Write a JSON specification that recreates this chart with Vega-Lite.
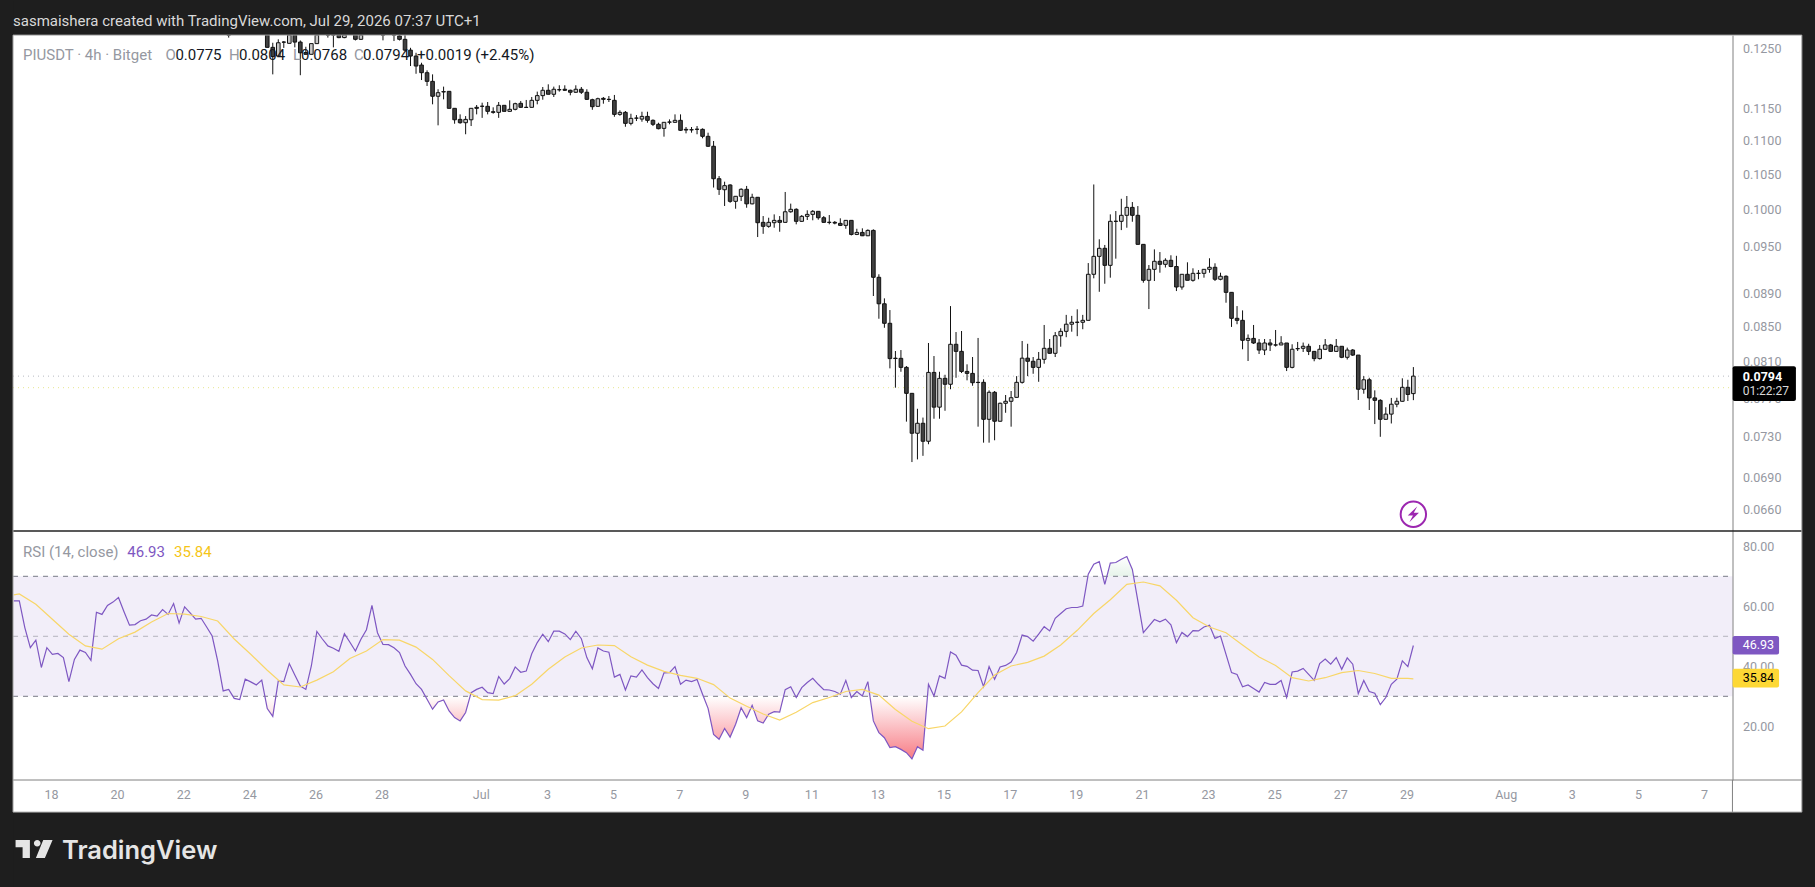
{
  "$schema": "https://vega.github.io/schema/vega-lite/v6.json",
  "width": 1815,
  "height": 887,
  "autosize": {"type": "fit", "contains": "padding"},
  "padding": 0,
  "background": "#1e1e1e",
  "config": {
    "view": {"stroke": null, "fill": "#ffffff"},
    "text": {"font": "Roboto"},
    "scale": {"continuousPadding": 0},
    "axis": {"labelFont": "Roboto", "labelFontSize": 12.5, "labelColor": "#9598a1", "grid": false, "ticks": false, "domain": false, "title": null}
  },
  "data": {"values": [{}]},
  "datasets": {
    "candles": [
      {"t":"2026-06-23T09:00","o":0.132,"h":0.133,"l":0.1269,"c":0.1315},
      {"t":"2026-06-24T13:00","o":0.1285,"h":0.13,"l":0.1252,"c":0.1252},
      {"t":"2026-06-24T17:00","o":0.1252,"h":0.126,"l":0.1206,"c":0.1236},
      {"t":"2026-06-24T21:00","o":0.1237,"h":0.1266,"l":0.1237,"c":0.126},
      {"t":"2026-06-25T01:00","o":0.12612,"h":0.1263,"l":0.1251,"c":0.1261},
      {"t":"2026-06-25T05:00","o":0.1259,"h":0.13,"l":0.1259,"c":0.1285},
      {"t":"2026-06-25T09:00","o":0.1285,"h":0.13,"l":0.1252,"c":0.12612},
      {"t":"2026-06-25T13:00","o":0.12612,"h":0.1264,"l":0.12046,"c":0.12426},
      {"t":"2026-06-25T17:00","o":0.1243,"h":0.1253,"l":0.12395,"c":0.124},
      {"t":"2026-06-25T21:00","o":0.124,"h":0.12585,"l":0.124,"c":0.12585},
      {"t":"2026-06-26T01:00","o":0.12585,"h":0.13,"l":0.12585,"c":0.129},
      {"t":"2026-06-26T09:00","o":0.13,"h":0.131,"l":0.1269,"c":0.1295},
      {"t":"2026-06-26T13:00","o":0.13,"h":0.131,"l":0.1252,"c":0.1295},
      {"t":"2026-06-26T17:00","o":0.129,"h":0.13,"l":0.1268,"c":0.1269},
      {"t":"2026-06-26T21:00","o":0.1269,"h":0.13,"l":0.1268,"c":0.129},
      {"t":"2026-06-27T05:00","o":0.1285,"h":0.13,"l":0.1264,"c":0.1266},
      {"t":"2026-06-27T09:00","o":0.1266,"h":0.13,"l":0.1265,"c":0.128},
      {"t":"2026-06-28T01:00","o":0.13,"h":0.131,"l":0.12642,"c":0.1295},
      {"t":"2026-06-28T09:00","o":0.129,"h":0.13,"l":0.1263,"c":0.128},
      {"t":"2026-06-28T13:00","o":0.1272,"h":0.128,"l":0.1264,"c":0.1266},
      {"t":"2026-06-28T17:00","o":0.1266,"h":0.128,"l":0.12455,"c":0.12472},
      {"t":"2026-06-28T21:00","o":0.12472,"h":0.12512,"l":0.122,"c":0.1237},
      {"t":"2026-06-29T01:00","o":0.1237,"h":0.12426,"l":0.1207,"c":0.122},
      {"t":"2026-06-29T05:00","o":0.12217,"h":0.12256,"l":0.11966,"c":0.12088},
      {"t":"2026-06-29T09:00","o":0.12088,"h":0.12128,"l":0.11868,"c":0.11944},
      {"t":"2026-06-29T13:00","o":0.11944,"h":0.1206,"l":0.1157,"c":0.117},
      {"t":"2026-06-29T17:00","o":0.117,"h":0.11814,"l":0.11238,"c":0.11758},
      {"t":"2026-06-29T21:00","o":0.11775,"h":0.11857,"l":0.1165,"c":0.1177},
      {"t":"2026-06-30T01:00","o":0.1178,"h":0.1178,"l":0.11506,"c":0.11506},
      {"t":"2026-06-30T05:00","o":0.11506,"h":0.11506,"l":0.11263,"c":0.11325},
      {"t":"2026-06-30T09:00","o":0.11331,"h":0.1141,"l":0.11263,"c":0.11279},
      {"t":"2026-06-30T13:00","o":0.11279,"h":0.11383,"l":0.111,"c":0.11331},
      {"t":"2026-06-30T17:00","o":0.11325,"h":0.11506,"l":0.11227,"c":0.11506},
      {"t":"2026-06-30T21:00","o":0.11522,"h":0.11559,"l":0.1141,"c":0.11506},
      {"t":"2026-07-01T01:00","o":0.1154,"h":0.11596,"l":0.11355,"c":0.11538},
      {"t":"2026-07-01T05:00","o":0.11538,"h":0.11607,"l":0.1141,"c":0.11458},
      {"t":"2026-07-01T09:00","o":0.11452,"h":0.11522,"l":0.1142,"c":0.11442},
      {"t":"2026-07-01T13:00","o":0.11442,"h":0.11607,"l":0.11355,"c":0.11554},
      {"t":"2026-07-01T17:00","o":0.11554,"h":0.11554,"l":0.11458,"c":0.11458},
      {"t":"2026-07-01T21:00","o":0.11458,"h":0.11634,"l":0.11452,"c":0.1149},
      {"t":"2026-07-02T01:00","o":0.1149,"h":0.11596,"l":0.11474,"c":0.1158},
      {"t":"2026-07-02T05:00","o":0.11586,"h":0.11623,"l":0.11517,"c":0.11522},
      {"t":"2026-07-02T09:00","o":0.11522,"h":0.1164,"l":0.11517,"c":0.1152},
      {"t":"2026-07-02T13:00","o":0.11522,"h":0.11688,"l":0.11517,"c":0.11634},
      {"t":"2026-07-02T17:00","o":0.11634,"h":0.11775,"l":0.1157,"c":0.1171},
      {"t":"2026-07-02T21:00","o":0.1171,"h":0.11851,"l":0.11644,"c":0.11797},
      {"t":"2026-07-03T01:00","o":0.11797,"h":0.11895,"l":0.11732,"c":0.11732},
      {"t":"2026-07-03T05:00","o":0.11732,"h":0.11857,"l":0.11688,"c":0.11814},
      {"t":"2026-07-03T09:00","o":0.11807,"h":0.11879,"l":0.11775,"c":0.11805},
      {"t":"2026-07-03T13:00","o":0.11814,"h":0.11879,"l":0.11786,"c":0.11797},
      {"t":"2026-07-03T17:00","o":0.11797,"h":0.11807,"l":0.11715,"c":0.11765},
      {"t":"2026-07-03T21:00","o":0.11765,"h":0.11879,"l":0.11753,"c":0.11814},
      {"t":"2026-07-04T01:00","o":0.11814,"h":0.11851,"l":0.11737,"c":0.11765},
      {"t":"2026-07-04T05:00","o":0.11765,"h":0.11814,"l":0.1164,"c":0.1165},
      {"t":"2026-07-04T09:00","o":0.11644,"h":0.1166,"l":0.11483,"c":0.11532},
      {"t":"2026-07-04T13:00","o":0.11538,"h":0.11677,"l":0.11532,"c":0.1166},
      {"t":"2026-07-04T17:00","o":0.11666,"h":0.11688,"l":0.1158,"c":0.1165},
      {"t":"2026-07-04T21:00","o":0.1165,"h":0.11704,"l":0.11607,"c":0.11648},
      {"t":"2026-07-05T01:00","o":0.11634,"h":0.11721,"l":0.11372,"c":0.1141},
      {"t":"2026-07-05T05:00","o":0.1141,"h":0.11474,"l":0.11388,"c":0.11442},
      {"t":"2026-07-05T09:00","o":0.11442,"h":0.11463,"l":0.11216,"c":0.11269},
      {"t":"2026-07-05T13:00","o":0.11269,"h":0.1142,"l":0.11238,"c":0.11347},
      {"t":"2026-07-05T17:00","o":0.11352,"h":0.11399,"l":0.11305,"c":0.1135},
      {"t":"2026-07-05T21:00","o":0.11336,"h":0.11452,"l":0.11294,"c":0.11378},
      {"t":"2026-07-06T01:00","o":0.11378,"h":0.11452,"l":0.11279,"c":0.11316},
      {"t":"2026-07-06T05:00","o":0.11316,"h":0.11331,"l":0.11227,"c":0.11254},
      {"t":"2026-07-06T09:00","o":0.11254,"h":0.11279,"l":0.11176,"c":0.11186},
      {"t":"2026-07-06T13:00","o":0.11191,"h":0.11285,"l":0.11063,"c":0.11285},
      {"t":"2026-07-06T17:00","o":0.1129,"h":0.11331,"l":0.11254,"c":0.11288},
      {"t":"2026-07-06T21:00","o":0.11285,"h":0.1141,"l":0.11279,"c":0.11316},
      {"t":"2026-07-07T01:00","o":0.11316,"h":0.1141,"l":0.1115,"c":0.11161},
      {"t":"2026-07-07T05:00","o":0.11176,"h":0.11212,"l":0.11114,"c":0.11165},
      {"t":"2026-07-07T09:00","o":0.1117,"h":0.11212,"l":0.11124,"c":0.11168},
      {"t":"2026-07-07T13:00","o":0.11178,"h":0.11227,"l":0.111,"c":0.11176},
      {"t":"2026-07-07T17:00","o":0.11176,"h":0.11191,"l":0.11038,"c":0.11068},
      {"t":"2026-07-07T21:00","o":0.11068,"h":0.11124,"l":0.10907,"c":0.10917},
      {"t":"2026-07-08T01:00","o":0.10917,"h":0.10997,"l":0.1031,"c":0.10437},
      {"t":"2026-07-08T05:00","o":0.10437,"h":0.10476,"l":0.10205,"c":0.10285},
      {"t":"2026-07-08T09:00","o":0.10279,"h":0.10394,"l":0.1005,"c":0.10337},
      {"t":"2026-07-08T13:00","o":0.10347,"h":0.10357,"l":0.10095,"c":0.10115},
      {"t":"2026-07-08T17:00","o":0.10115,"h":0.1019,"l":0.10012,"c":0.10186},
      {"t":"2026-07-08T21:00","o":0.10186,"h":0.103,"l":0.10119,"c":0.10285},
      {"t":"2026-07-09T01:00","o":0.10285,"h":0.10333,"l":0.10026,"c":0.1008},
      {"t":"2026-07-09T05:00","o":0.1008,"h":0.10222,"l":0.10073,"c":0.10172},
      {"t":"2026-07-09T09:00","o":0.10172,"h":0.10176,"l":0.09627,"c":0.0982},
      {"t":"2026-07-09T13:00","o":0.09825,"h":0.09911,"l":0.0967,"c":0.09771},
      {"t":"2026-07-09T17:00","o":0.09771,"h":0.09888,"l":0.09752,"c":0.09825},
      {"t":"2026-07-09T21:00","o":0.0982,"h":0.09934,"l":0.09752,"c":0.09852},
      {"t":"2026-07-10T01:00","o":0.09852,"h":0.09911,"l":0.09698,"c":0.09825},
      {"t":"2026-07-10T05:00","o":0.09825,"h":0.10247,"l":0.0982,"c":0.0997},
      {"t":"2026-07-10T09:00","o":0.0997,"h":0.10083,"l":0.09957,"c":0.10004},
      {"t":"2026-07-10T13:00","o":0.10004,"h":0.10018,"l":0.09798,"c":0.09839},
      {"t":"2026-07-10T17:00","o":0.09839,"h":0.09925,"l":0.0983,"c":0.09907},
      {"t":"2026-07-10T21:00","o":0.09907,"h":0.0999,"l":0.09857,"c":0.09934},
      {"t":"2026-07-11T01:00","o":0.09934,"h":0.09994,"l":0.09853,"c":0.09976},
      {"t":"2026-07-11T05:00","o":0.09976,"h":0.09976,"l":0.09861,"c":0.09888},
      {"t":"2026-07-11T09:00","o":0.09888,"h":0.09911,"l":0.0982,"c":0.09825},
      {"t":"2026-07-11T13:00","o":0.09826,"h":0.09925,"l":0.09798,"c":0.09824},
      {"t":"2026-07-11T17:00","o":0.09825,"h":0.09843,"l":0.09798,"c":0.09815},
      {"t":"2026-07-11T21:00","o":0.09811,"h":0.0988,"l":0.09775,"c":0.09784},
      {"t":"2026-07-12T01:00","o":0.09784,"h":0.09857,"l":0.09738,"c":0.09852},
      {"t":"2026-07-12T05:00","o":0.09852,"h":0.09852,"l":0.09648,"c":0.09662},
      {"t":"2026-07-12T09:00","o":0.09662,"h":0.09738,"l":0.09653,"c":0.09689},
      {"t":"2026-07-12T13:00","o":0.09689,"h":0.09744,"l":0.0964,"c":0.09644},
      {"t":"2026-07-12T17:00","o":0.09644,"h":0.0973,"l":0.0964,"c":0.09716},
      {"t":"2026-07-12T21:00","o":0.09716,"h":0.0973,"l":0.08872,"c":0.09105},
      {"t":"2026-07-13T01:00","o":0.09105,"h":0.09143,"l":0.08597,"c":0.08777},
      {"t":"2026-07-13T05:00","o":0.08777,"h":0.08843,"l":0.0849,"c":0.08543},
      {"t":"2026-07-13T09:00","o":0.08543,"h":0.08701,"l":0.08026,"c":0.08135},
      {"t":"2026-07-13T13:00","o":0.0814,"h":0.08221,"l":0.07814,"c":0.08136},
      {"t":"2026-07-13T17:00","o":0.08138,"h":0.08232,"l":0.07988,"c":0.08037},
      {"t":"2026-07-13T21:00","o":0.08037,"h":0.08052,"l":0.07455,"c":0.07753},
      {"t":"2026-07-14T01:00","o":0.07753,"h":0.07753,"l":0.07049,"c":0.07336},
      {"t":"2026-07-14T05:00","o":0.07336,"h":0.07589,"l":0.07075,"c":0.07438},
      {"t":"2026-07-14T09:00","o":0.07438,"h":0.07497,"l":0.0711,"c":0.07255},
      {"t":"2026-07-14T13:00","o":0.07255,"h":0.08313,"l":0.07225,"c":0.07981},
      {"t":"2026-07-14T17:00","o":0.07981,"h":0.08164,"l":0.07485,"c":0.07606},
      {"t":"2026-07-14T21:00","o":0.07606,"h":0.07988,"l":0.07485,"c":0.07916},
      {"t":"2026-07-15T01:00","o":0.07916,"h":0.07955,"l":0.07568,"c":0.07851},
      {"t":"2026-07-15T05:00","o":0.07851,"h":0.08749,"l":0.07797,"c":0.08298},
      {"t":"2026-07-15T09:00","o":0.08298,"h":0.0844,"l":0.07922,"c":0.08217},
      {"t":"2026-07-15T13:00","o":0.08217,"h":0.08452,"l":0.07974,"c":0.07992},
      {"t":"2026-07-15T17:00","o":0.07992,"h":0.08071,"l":0.07894,"c":0.0797},
      {"t":"2026-07-15T21:00","o":0.0797,"h":0.08153,"l":0.07835,"c":0.07868},
      {"t":"2026-07-16T01:00","o":0.07872,"h":0.08371,"l":0.07403,"c":0.0787},
      {"t":"2026-07-16T05:00","o":0.07872,"h":0.07905,"l":0.07241,"c":0.07479},
      {"t":"2026-07-16T09:00","o":0.07479,"h":0.07785,"l":0.07241,"c":0.07764},
      {"t":"2026-07-16T13:00","o":0.07764,"h":0.07778,"l":0.07265,"c":0.07459},
      {"t":"2026-07-16T17:00","o":0.07459,"h":0.07654,"l":0.07455,"c":0.07647},
      {"t":"2026-07-16T21:00","o":0.07647,"h":0.07735,"l":0.07547,"c":0.07668},
      {"t":"2026-07-17T01:00","o":0.07668,"h":0.07778,"l":0.07403,"c":0.07706},
      {"t":"2026-07-17T05:00","o":0.0771,"h":0.0794,"l":0.07706,"c":0.07872},
      {"t":"2026-07-17T09:00","o":0.07872,"h":0.08336,"l":0.07858,"c":0.0814},
      {"t":"2026-07-17T13:00","o":0.0814,"h":0.08304,"l":0.0794,"c":0.08105},
      {"t":"2026-07-17T17:00","o":0.08105,"h":0.08153,"l":0.07966,"c":0.08037},
      {"t":"2026-07-17T21:00","o":0.08037,"h":0.0821,"l":0.07878,"c":0.08127},
      {"t":"2026-07-18T01:00","o":0.08127,"h":0.08523,"l":0.08078,"c":0.08252},
      {"t":"2026-07-18T05:00","o":0.08252,"h":0.08359,"l":0.0819,"c":0.08195},
      {"t":"2026-07-18T09:00","o":0.08195,"h":0.0844,"l":0.08153,"c":0.08397},
      {"t":"2026-07-18T13:00","o":0.08397,"h":0.08484,"l":0.0827,"c":0.08448},
      {"t":"2026-07-18T17:00","o":0.08448,"h":0.08643,"l":0.0838,"c":0.08532},
      {"t":"2026-07-18T21:00","o":0.08532,"h":0.08631,"l":0.08444,"c":0.08555},
      {"t":"2026-07-19T01:00","o":0.08556,"h":0.0871,"l":0.08392,"c":0.08554},
      {"t":"2026-07-19T05:00","o":0.08555,"h":0.08643,"l":0.08473,"c":0.08578},
      {"t":"2026-07-19T09:00","o":0.08578,"h":0.09286,"l":0.08578,"c":0.09143},
      {"t":"2026-07-19T13:00","o":0.09143,"h":0.10354,"l":0.09092,"c":0.09373},
      {"t":"2026-07-19T17:00","o":0.09373,"h":0.09597,"l":0.08924,"c":0.09478},
      {"t":"2026-07-19T21:00","o":0.09478,"h":0.09522,"l":0.09024,"c":0.09257},
      {"t":"2026-07-20T01:00","o":0.09257,"h":0.09934,"l":0.091,"c":0.09839},
      {"t":"2026-07-20T05:00","o":0.0984,"h":0.0998,"l":0.09343,"c":0.09838},
      {"t":"2026-07-20T09:00","o":0.09839,"h":0.10151,"l":0.0972,"c":0.09921},
      {"t":"2026-07-20T13:00","o":0.09921,"h":0.1019,"l":0.09752,"c":0.10031},
      {"t":"2026-07-20T17:00","o":0.10031,"h":0.10105,"l":0.09833,"c":0.09921},
      {"t":"2026-07-20T21:00","o":0.09921,"h":0.10049,"l":0.0953,"c":0.0953},
      {"t":"2026-07-21T01:00","o":0.0953,"h":0.0953,"l":0.09037,"c":0.09067},
      {"t":"2026-07-21T05:00","o":0.09067,"h":0.09261,"l":0.08713,"c":0.09206},
      {"t":"2026-07-21T09:00","o":0.09206,"h":0.09464,"l":0.09058,"c":0.09309},
      {"t":"2026-07-21T13:00","o":0.09309,"h":0.09429,"l":0.09163,"c":0.0927},
      {"t":"2026-07-21T17:00","o":0.0927,"h":0.09348,"l":0.09229,"c":0.09322},
      {"t":"2026-07-21T21:00","o":0.09322,"h":0.09387,"l":0.09233,"c":0.09242},
      {"t":"2026-07-22T01:00","o":0.09242,"h":0.0938,"l":0.08933,"c":0.08983},
      {"t":"2026-07-22T05:00","o":0.08983,"h":0.09143,"l":0.0895,"c":0.09143},
      {"t":"2026-07-22T09:00","o":0.09143,"h":0.09296,"l":0.09067,"c":0.09067},
      {"t":"2026-07-22T13:00","o":0.09067,"h":0.09219,"l":0.0905,"c":0.09155},
      {"t":"2026-07-22T17:00","o":0.09156,"h":0.09197,"l":0.0908,"c":0.09154},
      {"t":"2026-07-22T21:00","o":0.09155,"h":0.09206,"l":0.091,"c":0.09206},
      {"t":"2026-07-23T01:00","o":0.09206,"h":0.09348,"l":0.09163,"c":0.09232},
      {"t":"2026-07-23T05:00","o":0.09232,"h":0.09283,"l":0.09058,"c":0.0908},
      {"t":"2026-07-23T09:00","o":0.0908,"h":0.09163,"l":0.09067,"c":0.09118},
      {"t":"2026-07-23T13:00","o":0.09118,"h":0.0913,"l":0.0879,"c":0.08917},
      {"t":"2026-07-23T17:00","o":0.08917,"h":0.08917,"l":0.085,"c":0.08602},
      {"t":"2026-07-23T21:00","o":0.08602,"h":0.08749,"l":0.08532,"c":0.08578},
      {"t":"2026-07-24T01:00","o":0.08578,"h":0.08697,"l":0.08241,"c":0.08344},
      {"t":"2026-07-24T05:00","o":0.08344,"h":0.08412,"l":0.08108,"c":0.08366},
      {"t":"2026-07-24T09:00","o":0.08366,"h":0.08523,"l":0.08302,"c":0.08313},
      {"t":"2026-07-24T13:00","o":0.08313,"h":0.08359,"l":0.08187,"c":0.08232},
      {"t":"2026-07-24T17:00","o":0.08232,"h":0.08359,"l":0.08175,"c":0.08313},
      {"t":"2026-07-24T21:00","o":0.08313,"h":0.08359,"l":0.08221,"c":0.0829},
      {"t":"2026-07-25T01:00","o":0.08291,"h":0.08464,"l":0.08272,"c":0.08289},
      {"t":"2026-07-25T05:00","o":0.0829,"h":0.08392,"l":0.0829,"c":0.08313},
      {"t":"2026-07-25T09:00","o":0.08313,"h":0.08313,"l":0.07996,"c":0.08037},
      {"t":"2026-07-25T13:00","o":0.08037,"h":0.08298,"l":0.08026,"c":0.08241},
      {"t":"2026-07-25T17:00","o":0.08249,"h":0.08325,"l":0.08221,"c":0.08247},
      {"t":"2026-07-25T21:00","o":0.08252,"h":0.08318,"l":0.0821,"c":0.08275},
      {"t":"2026-07-26T01:00","o":0.08275,"h":0.08304,"l":0.08175,"c":0.08217},
      {"t":"2026-07-26T05:00","o":0.08217,"h":0.08221,"l":0.08105,"c":0.08135},
      {"t":"2026-07-26T09:00","o":0.08135,"h":0.0829,"l":0.08125,"c":0.08241},
      {"t":"2026-07-26T13:00","o":0.08241,"h":0.08359,"l":0.08232,"c":0.0829},
      {"t":"2026-07-26T17:00","o":0.0829,"h":0.08302,"l":0.0821,"c":0.08217},
      {"t":"2026-07-26T21:00","o":0.08217,"h":0.08359,"l":0.0821,"c":0.08275},
      {"t":"2026-07-27T01:00","o":0.08275,"h":0.08275,"l":0.0814,"c":0.0815},
      {"t":"2026-07-27T05:00","o":0.0815,"h":0.0826,"l":0.08125,"c":0.08232},
      {"t":"2026-07-27T09:00","o":0.08232,"h":0.08244,"l":0.08165,"c":0.08175},
      {"t":"2026-07-27T13:00","o":0.08175,"h":0.08175,"l":0.07682,"c":0.07797},
      {"t":"2026-07-27T17:00","o":0.07797,"h":0.0794,"l":0.07749,"c":0.079},
      {"t":"2026-07-27T21:00","o":0.079,"h":0.07922,"l":0.07576,"c":0.07704},
      {"t":"2026-07-28T01:00","o":0.07704,"h":0.07785,"l":0.0743,"c":0.07678},
      {"t":"2026-07-28T05:00","o":0.07678,"h":0.0769,"l":0.073,"c":0.07479},
      {"t":"2026-07-28T09:00","o":0.07479,"h":0.07605,"l":0.07475,"c":0.07533},
      {"t":"2026-07-28T13:00","o":0.07533,"h":0.07704,"l":0.07436,"c":0.07637},
      {"t":"2026-07-28T17:00","o":0.07637,"h":0.07706,"l":0.07605,"c":0.07668},
      {"t":"2026-07-28T21:00","o":0.07668,"h":0.07916,"l":0.07664,"c":0.07818},
      {"t":"2026-07-29T01:00","o":0.07818,"h":0.079,"l":0.07671,"c":0.07741},
      {"t":"2026-07-29T05:00","o":0.0775,"h":0.0804,"l":0.0768,"c":0.0794}
    ],
    "rsi": [
      {"t":"2026-06-16T21:00","v":61.8},
      {"t":"2026-06-17T01:00","v":61.8},{"t":"2026-06-17T05:00","v":52.9},{"t":"2026-06-17T09:00","v":46.2},{"t":"2026-06-17T13:00","v":48.7},{"t":"2026-06-17T17:00","v":39.6},{"t":"2026-06-17T21:00","v":46.2},
      {"t":"2026-06-18T01:00","v":44},{"t":"2026-06-18T05:00","v":44.3},{"t":"2026-06-18T09:00","v":42.9},{"t":"2026-06-18T13:00","v":34.9},{"t":"2026-06-18T17:00","v":42.3},{"t":"2026-06-18T21:00","v":45.4},
      {"t":"2026-06-19T01:00","v":44.6},{"t":"2026-06-19T05:00","v":42},{"t":"2026-06-19T09:00","v":58},{"t":"2026-06-19T13:00","v":57.3},{"t":"2026-06-19T17:00","v":60.3},{"t":"2026-06-19T21:00","v":61.4},
      {"t":"2026-06-20T01:00","v":62.9},{"t":"2026-06-20T05:00","v":58.2},{"t":"2026-06-20T09:00","v":53.7},{"t":"2026-06-20T13:00","v":53.9},{"t":"2026-06-20T17:00","v":55.2},{"t":"2026-06-20T21:00","v":55.7},
      {"t":"2026-06-21T01:00","v":57.1},{"t":"2026-06-21T05:00","v":56.7},{"t":"2026-06-21T09:00","v":58.9},{"t":"2026-06-21T13:00","v":57.3},{"t":"2026-06-21T17:00","v":60.9},{"t":"2026-06-21T21:00","v":54.4},
      {"t":"2026-06-22T01:00","v":59.8},{"t":"2026-06-22T05:00","v":57.8},{"t":"2026-06-22T09:00","v":55.7},{"t":"2026-06-22T13:00","v":56},{"t":"2026-06-22T17:00","v":53.1},{"t":"2026-06-22T21:00","v":50.1},
      {"t":"2026-06-23T01:00","v":41.8},{"t":"2026-06-23T05:00","v":31.8},{"t":"2026-06-23T09:00","v":32.3},{"t":"2026-06-23T13:00","v":29.3},{"t":"2026-06-23T17:00","v":28.9},{"t":"2026-06-23T21:00","v":35.7},
      {"t":"2026-06-24T01:00","v":34.8},{"t":"2026-06-24T05:00","v":33.8},{"t":"2026-06-24T09:00","v":35.4},{"t":"2026-06-24T13:00","v":25.9},{"t":"2026-06-24T17:00","v":23.3},{"t":"2026-06-24T21:00","v":35.1},
      {"t":"2026-06-25T01:00","v":34.9},{"t":"2026-06-25T05:00","v":40.9},{"t":"2026-06-25T09:00","v":37.1},{"t":"2026-06-25T13:00","v":33.4},{"t":"2026-06-25T17:00","v":32.3},{"t":"2026-06-25T21:00","v":40.1},
      {"t":"2026-06-26T01:00","v":51.6},{"t":"2026-06-26T05:00","v":49.1},{"t":"2026-06-26T09:00","v":46.8},{"t":"2026-06-26T13:00","v":46},{"t":"2026-06-26T17:00","v":45},{"t":"2026-06-26T21:00","v":50.9},
      {"t":"2026-06-27T01:00","v":48},{"t":"2026-06-27T05:00","v":45.1},{"t":"2026-06-27T09:00","v":49},{"t":"2026-06-27T13:00","v":52.2},{"t":"2026-06-27T17:00","v":60.3},{"t":"2026-06-27T21:00","v":51.2},
      {"t":"2026-06-28T01:00","v":47.3},{"t":"2026-06-28T05:00","v":47.2},{"t":"2026-06-28T09:00","v":46.2},{"t":"2026-06-28T13:00","v":44.6},{"t":"2026-06-28T17:00","v":40.1},{"t":"2026-06-28T21:00","v":37.3},
      {"t":"2026-06-29T01:00","v":34.2},{"t":"2026-06-29T05:00","v":32.3},{"t":"2026-06-29T09:00","v":29},{"t":"2026-06-29T13:00","v":25.7},{"t":"2026-06-29T17:00","v":28.1},{"t":"2026-06-29T21:00","v":28.8},
      {"t":"2026-06-30T01:00","v":25.1},{"t":"2026-06-30T05:00","v":22.9},{"t":"2026-06-30T09:00","v":21.8},{"t":"2026-06-30T13:00","v":24.6},{"t":"2026-06-30T17:00","v":31.2},{"t":"2026-06-30T21:00","v":32.3},
      {"t":"2026-07-01T01:00","v":33},{"t":"2026-07-01T05:00","v":31.2},{"t":"2026-07-01T09:00","v":30.9},{"t":"2026-07-01T13:00","v":36.6},{"t":"2026-07-01T17:00","v":34.1},{"t":"2026-07-01T21:00","v":35.9},
      {"t":"2026-07-02T01:00","v":39.8},{"t":"2026-07-02T05:00","v":38},{"t":"2026-07-02T09:00","v":38.4},{"t":"2026-07-02T13:00","v":44.2},{"t":"2026-07-02T17:00","v":47.9},{"t":"2026-07-02T21:00","v":50.7},
      {"t":"2026-07-03T01:00","v":48.2},{"t":"2026-07-03T05:00","v":51.7},{"t":"2026-07-03T09:00","v":51.7},{"t":"2026-07-03T13:00","v":50.8},{"t":"2026-07-03T17:00","v":48.9},{"t":"2026-07-03T21:00","v":51.7},
      {"t":"2026-07-04T01:00","v":49.2},{"t":"2026-07-04T05:00","v":42.9},{"t":"2026-07-04T09:00","v":39.2},{"t":"2026-07-04T13:00","v":46.1},{"t":"2026-07-04T17:00","v":45.1},{"t":"2026-07-04T21:00","v":44.7},
      {"t":"2026-07-05T01:00","v":36.4},{"t":"2026-07-05T05:00","v":37.3},{"t":"2026-07-05T09:00","v":32.1},{"t":"2026-07-05T13:00","v":36.8},{"t":"2026-07-05T17:00","v":36.4},{"t":"2026-07-05T21:00","v":38.8},
      {"t":"2026-07-06T01:00","v":36.2},{"t":"2026-07-06T05:00","v":34.2},{"t":"2026-07-06T09:00","v":32.6},{"t":"2026-07-06T13:00","v":37.8},{"t":"2026-07-06T17:00","v":37.9},{"t":"2026-07-06T21:00","v":39.9},
      {"t":"2026-07-07T01:00","v":34},{"t":"2026-07-07T05:00","v":35.4},{"t":"2026-07-07T09:00","v":34.9},{"t":"2026-07-07T13:00","v":35.6},{"t":"2026-07-07T17:00","v":30.7},{"t":"2026-07-07T21:00","v":26},
      {"t":"2026-07-08T01:00","v":17.3},{"t":"2026-07-08T05:00","v":15.7},{"t":"2026-07-08T09:00","v":19.3},{"t":"2026-07-08T13:00","v":16.4},{"t":"2026-07-08T17:00","v":20.7},{"t":"2026-07-08T21:00","v":26.2},
      {"t":"2026-07-09T01:00","v":22.9},{"t":"2026-07-09T05:00","v":27},{"t":"2026-07-09T09:00","v":21.8},{"t":"2026-07-09T13:00","v":21.1},{"t":"2026-07-09T17:00","v":24},{"t":"2026-07-09T21:00","v":24.9},
      {"t":"2026-07-10T01:00","v":24.7},{"t":"2026-07-10T05:00","v":32.2},{"t":"2026-07-10T09:00","v":33.2},{"t":"2026-07-10T13:00","v":29.6},{"t":"2026-07-10T17:00","v":32.9},{"t":"2026-07-10T21:00","v":34.6},
      {"t":"2026-07-11T01:00","v":36},{"t":"2026-07-11T05:00","v":34},{"t":"2026-07-11T09:00","v":32.2},{"t":"2026-07-11T13:00","v":32.1},{"t":"2026-07-11T17:00","v":31.6},{"t":"2026-07-11T21:00","v":30.7},
      {"t":"2026-07-12T01:00","v":35.3},{"t":"2026-07-12T05:00","v":29.6},{"t":"2026-07-12T09:00","v":31.6},{"t":"2026-07-12T13:00","v":30.1},{"t":"2026-07-12T17:00","v":34.9},{"t":"2026-07-12T21:00","v":21.8},
      {"t":"2026-07-13T01:00","v":17.9},{"t":"2026-07-13T05:00","v":16.2},{"t":"2026-07-13T09:00","v":12.9},{"t":"2026-07-13T13:00","v":13.2},{"t":"2026-07-13T17:00","v":12.3},{"t":"2026-07-13T21:00","v":11.2},
      {"t":"2026-07-14T01:00","v":9.1},{"t":"2026-07-14T05:00","v":13.2},{"t":"2026-07-14T09:00","v":12},{"t":"2026-07-14T13:00","v":34},{"t":"2026-07-14T17:00","v":30.1},{"t":"2026-07-14T21:00","v":36.8},
      {"t":"2026-07-15T01:00","v":36},{"t":"2026-07-15T05:00","v":44.8},{"t":"2026-07-15T09:00","v":43.7},{"t":"2026-07-15T13:00","v":40.4},{"t":"2026-07-15T17:00","v":40},{"t":"2026-07-15T21:00","v":38.7},
      {"t":"2026-07-16T01:00","v":38.6},{"t":"2026-07-16T05:00","v":33.2},{"t":"2026-07-16T09:00","v":39.9},{"t":"2026-07-16T13:00","v":35.7},{"t":"2026-07-16T17:00","v":39.8},{"t":"2026-07-16T21:00","v":40.3},
      {"t":"2026-07-17T01:00","v":41.4},{"t":"2026-07-17T05:00","v":44.6},{"t":"2026-07-17T09:00","v":50.4},{"t":"2026-07-17T13:00","v":49.9},{"t":"2026-07-17T17:00","v":48.4},{"t":"2026-07-17T21:00","v":50.7},
      {"t":"2026-07-18T01:00","v":53.2},{"t":"2026-07-18T05:00","v":51.8},{"t":"2026-07-18T09:00","v":56},{"t":"2026-07-18T13:00","v":57.6},{"t":"2026-07-18T17:00","v":59.2},{"t":"2026-07-18T21:00","v":59.6},
      {"t":"2026-07-19T01:00","v":59.6},{"t":"2026-07-19T05:00","v":60.1},{"t":"2026-07-19T09:00","v":70.7},{"t":"2026-07-19T13:00","v":74},{"t":"2026-07-19T17:00","v":74.9},{"t":"2026-07-19T21:00","v":67.3},
      {"t":"2026-07-20T01:00","v":74.4},{"t":"2026-07-20T05:00","v":74.6},{"t":"2026-07-20T09:00","v":75.7},{"t":"2026-07-20T13:00","v":76.6},{"t":"2026-07-20T17:00","v":72.3},{"t":"2026-07-20T21:00","v":61.8},
      {"t":"2026-07-21T01:00","v":51.2},{"t":"2026-07-21T05:00","v":53.4},{"t":"2026-07-21T09:00","v":55.6},{"t":"2026-07-21T13:00","v":54.8},{"t":"2026-07-21T17:00","v":55.7},{"t":"2026-07-21T21:00","v":53.8},
      {"t":"2026-07-22T01:00","v":47.9},{"t":"2026-07-22T05:00","v":51.3},{"t":"2026-07-22T09:00","v":49.9},{"t":"2026-07-22T13:00","v":51.9},{"t":"2026-07-22T17:00","v":51.8},{"t":"2026-07-22T21:00","v":53.1},
      {"t":"2026-07-23T01:00","v":53.7},{"t":"2026-07-23T05:00","v":49.3},{"t":"2026-07-23T09:00","v":50.1},{"t":"2026-07-23T13:00","v":44},{"t":"2026-07-23T17:00","v":37.9},{"t":"2026-07-23T21:00","v":37.3},
      {"t":"2026-07-24T01:00","v":33.2},{"t":"2026-07-24T05:00","v":33.8},{"t":"2026-07-24T09:00","v":32.6},{"t":"2026-07-24T13:00","v":31.4},{"t":"2026-07-24T17:00","v":34.6},{"t":"2026-07-24T21:00","v":34},
      {"t":"2026-07-25T01:00","v":34},{"t":"2026-07-25T05:00","v":35.3},{"t":"2026-07-25T09:00","v":29.6},{"t":"2026-07-25T13:00","v":38.1},{"t":"2026-07-25T17:00","v":38.4},{"t":"2026-07-25T21:00","v":39.3},
      {"t":"2026-07-26T01:00","v":37.3},{"t":"2026-07-26T05:00","v":35.3},{"t":"2026-07-26T09:00","v":40.9},{"t":"2026-07-26T13:00","v":42.4},{"t":"2026-07-26T17:00","v":40.7},{"t":"2026-07-26T21:00","v":42.9},
      {"t":"2026-07-27T01:00","v":39},{"t":"2026-07-27T05:00","v":42.8},{"t":"2026-07-27T09:00","v":40.7},{"t":"2026-07-27T13:00","v":30.9},{"t":"2026-07-27T17:00","v":35.3},{"t":"2026-07-27T21:00","v":31.6},
      {"t":"2026-07-28T01:00","v":31},{"t":"2026-07-28T05:00","v":27.2},{"t":"2026-07-28T09:00","v":29.6},{"t":"2026-07-28T13:00","v":34},{"t":"2026-07-28T17:00","v":35.7},{"t":"2026-07-28T21:00","v":41.8},
      {"t":"2026-07-29T01:00","v":39.9},{"t":"2026-07-29T05:00","v":46.93}
    ],
    "ma": [
      {"t":"2026-06-16T21:00","v":63.8},{"t":"2026-06-17T01:00","v":64.1},{"t":"2026-06-17T13:00","v":60.7},{"t":"2026-06-18T01:00","v":55.7},{"t":"2026-06-18T13:00","v":50.7},
      {"t":"2026-06-19T01:00","v":46.8},{"t":"2026-06-19T13:00","v":45.7},{"t":"2026-06-20T01:00","v":49.2},{"t":"2026-06-20T13:00","v":51.4},{"t":"2026-06-21T01:00","v":54.8},
      {"t":"2026-06-21T13:00","v":57.6},{"t":"2026-06-22T01:00","v":57.4},{"t":"2026-06-22T13:00","v":56.6},{"t":"2026-06-23T01:00","v":55.1},{"t":"2026-06-23T13:00","v":49.1},
      {"t":"2026-06-24T01:00","v":44},{"t":"2026-06-24T13:00","v":38.7},{"t":"2026-06-25T01:00","v":33.8},{"t":"2026-06-25T13:00","v":33.1},{"t":"2026-06-26T01:00","v":35.4},
      {"t":"2026-06-26T13:00","v":38.2},{"t":"2026-06-27T01:00","v":42.6},{"t":"2026-06-27T13:00","v":45.1},{"t":"2026-06-28T01:00","v":48.9},{"t":"2026-06-28T13:00","v":48.7},
      {"t":"2026-06-29T01:00","v":46.4},{"t":"2026-06-29T13:00","v":42.3},{"t":"2026-06-30T01:00","v":36.9},{"t":"2026-06-30T13:00","v":31.8},{"t":"2026-07-01T01:00","v":28.9},
      {"t":"2026-07-01T13:00","v":28.7},{"t":"2026-07-02T01:00","v":30.2},{"t":"2026-07-02T13:00","v":34},{"t":"2026-07-03T01:00","v":39},{"t":"2026-07-03T13:00","v":43.1},
      {"t":"2026-07-04T01:00","v":46.1},{"t":"2026-07-04T13:00","v":47.1},{"t":"2026-07-05T01:00","v":46.9},{"t":"2026-07-05T13:00","v":43.2},{"t":"2026-07-06T01:00","v":40.4},
      {"t":"2026-07-06T13:00","v":38.3},{"t":"2026-07-07T01:00","v":37},{"t":"2026-07-07T13:00","v":36},{"t":"2026-07-08T01:00","v":33.9},{"t":"2026-07-08T13:00","v":29.4},
      {"t":"2026-07-09T01:00","v":26.7},{"t":"2026-07-09T13:00","v":24.1},{"t":"2026-07-10T01:00","v":22.1},{"t":"2026-07-10T13:00","v":24.7},{"t":"2026-07-11T01:00","v":27.9},
      {"t":"2026-07-11T13:00","v":29.6},{"t":"2026-07-12T01:00","v":31.6},{"t":"2026-07-12T13:00","v":32.3},{"t":"2026-07-13T01:00","v":30.4},{"t":"2026-07-13T13:00","v":25.6},
      {"t":"2026-07-14T01:00","v":21.7},{"t":"2026-07-14T13:00","v":19.2},{"t":"2026-07-15T01:00","v":20.1},{"t":"2026-07-15T13:00","v":24.8},{"t":"2026-07-16T01:00","v":31.2},
      {"t":"2026-07-16T13:00","v":37.1},{"t":"2026-07-17T01:00","v":40.1},{"t":"2026-07-17T13:00","v":41.3},{"t":"2026-07-18T01:00","v":43.4},{"t":"2026-07-18T13:00","v":47.1},
      {"t":"2026-07-19T01:00","v":52},{"t":"2026-07-19T13:00","v":57.6},{"t":"2026-07-20T01:00","v":62.2},{"t":"2026-07-20T13:00","v":67.3},{"t":"2026-07-21T01:00","v":68.1},
      {"t":"2026-07-21T13:00","v":66.8},{"t":"2026-07-22T01:00","v":62},{"t":"2026-07-22T13:00","v":56.2},{"t":"2026-07-23T01:00","v":53.1},{"t":"2026-07-23T13:00","v":51.2},
      {"t":"2026-07-24T01:00","v":47.1},{"t":"2026-07-24T13:00","v":43.1},{"t":"2026-07-25T01:00","v":40.3},{"t":"2026-07-25T13:00","v":36.2},{"t":"2026-07-26T01:00","v":35.1},
      {"t":"2026-07-26T13:00","v":36.2},{"t":"2026-07-27T01:00","v":37.9},{"t":"2026-07-27T13:00","v":38.6},{"t":"2026-07-28T01:00","v":37.6},{"t":"2026-07-28T13:00","v":36},
      {"t":"2026-07-29T01:00","v":36},{"t":"2026-07-29T05:00","v":35.84}
    ],
    "priceLegend": [
      {"t":"2026-06-17T03:40","label":"PIUSDT · 4h · Bitget","kind":"muted"},
      {"t":"2026-06-21T11:11","label":"O","kind":"muted"},
      {"t":"2026-06-21T18:18","label":"0.0775","kind":"value"},
      {"t":"2026-06-23T09:13","label":"H","kind":"muted"},
      {"t":"2026-06-23T16:29","label":"0.0804","kind":"value"},
      {"t":"2026-06-25T07:41","label":"L","kind":"muted"},
      {"t":"2026-06-25T13:29","label":"0.0768","kind":"value"},
      {"t":"2026-06-27T03:58","label":"C","kind":"muted"},
      {"t":"2026-06-27T10:29","label":"0.0794","kind":"value"},
      {"t":"2026-06-29T01:41","label":"+0.0019 (+2.45%)","kind":"value"}
    ],
    "rsiLegend": [
      {"t":"2026-06-17T03:40","label":"RSI (14, close)","kind":"muted"},
      {"t":"2026-06-20T07:24","label":"46.93","kind":"rsi"},
      {"t":"2026-06-21T17:17","label":"35.84","kind":"ma"}
    ]
  },
  "layer": [
    {
      "layer": [
        {
          "mark": {"type": "rule", "color": "#b5b8c0", "strokeDash": [1, 4]},
          "encoding": {
            "x": {"datum": {"year":2026,"month":"jun","date":16,"hours":20,"minutes":26}, "type": "temporal", "scale": {"domain": [{"year":2026,"month":"jun","date":16,"hours":10,"minutes":59},{"year":2026,"month":"aug","date":10,"hours":8,"minutes":34}], "range": [0, 1815]}},
            "x2": {"datum": {"year":2026,"month":"aug","date":7,"hours":20,"minutes":38}},
            "y": {"datum": 0.0794, "type": "quantitative", "scale": {"type": "log", "domain": [0.06407, 0.12736], "range": [530, 34], "clamp": true}}
          }
        },
        {
          "mark": {"type": "rule", "color": "#e6e68c", "strokeDash": [1, 4]},
          "encoding": {
            "x": {"datum": {"year":2026,"month":"jun","date":16,"hours":20,"minutes":26}, "type": "temporal", "scale": {"domain": [{"year":2026,"month":"jun","date":16,"hours":10,"minutes":59},{"year":2026,"month":"aug","date":10,"hours":8,"minutes":34}], "range": [0, 1815]}},
            "x2": {"datum": {"year":2026,"month":"aug","date":7,"hours":20,"minutes":38}},
            "y": {"datum": 0.07814, "type": "quantitative", "scale": {"type": "log", "domain": [0.06407, 0.12736], "range": [530, 34], "clamp": true}}
          }
        },
        {
          "data": {"name": "candles"},
          "mark": {"type": "rule", "color": "#111111", "strokeWidth": 1},
          "encoding": {
            "x": {
              "field": "t", "type": "temporal", "title": null,
              "scale": {"domain": [{"year":2026,"month":"jun","date":16,"hours":10,"minutes":59},{"year":2026,"month":"aug","date":10,"hours":8,"minutes":34}], "range": [0, 1815]},
              "axis": {
                "orient": "bottom", "offset": -108, "labelPadding": 9, "labelFlush": false, "labelOverlap": false,
                "values": [
                  {"year":2026,"month":"jun","date":18},{"year":2026,"month":"jun","date":20},{"year":2026,"month":"jun","date":22},{"year":2026,"month":"jun","date":24},{"year":2026,"month":"jun","date":26},{"year":2026,"month":"jun","date":28},
                  {"year":2026,"month":"jul","date":1},{"year":2026,"month":"jul","date":3},{"year":2026,"month":"jul","date":5},{"year":2026,"month":"jul","date":7},{"year":2026,"month":"jul","date":9},{"year":2026,"month":"jul","date":11},{"year":2026,"month":"jul","date":13},{"year":2026,"month":"jul","date":15},{"year":2026,"month":"jul","date":17},{"year":2026,"month":"jul","date":19},{"year":2026,"month":"jul","date":21},{"year":2026,"month":"jul","date":23},{"year":2026,"month":"jul","date":25},{"year":2026,"month":"jul","date":27},{"year":2026,"month":"jul","date":29},
                  {"year":2026,"month":"aug","date":1},{"year":2026,"month":"aug","date":3},{"year":2026,"month":"aug","date":5},{"year":2026,"month":"aug","date":7}
                ],
                "labelExpr": "timeFormat(datum.value, '%-d') == '1' ? timeFormat(datum.value, '%b') : timeFormat(datum.value, '%-d')"
              }
            },
            "y": {
              "field": "l", "type": "quantitative", "title": null,
              "scale": {"type": "log", "domain": [0.06407, 0.12736], "range": [530, 34], "clamp": true},
              "axis": {
                "orient": "right", "offset": -82.5, "domain": true, "domainColor": "#808080", "labelPadding": 10, "labelAlign": "left", "labelOverlap": false, "labelFlush": false, "format": ".4f",
                "values": [0.125, 0.115, 0.11, 0.105, 0.1, 0.095, 0.089, 0.085, 0.081, 0.077, 0.073, 0.069, 0.066]
              }
            },
            "y2": {"field": "h"}
          }
        },
        {
          "data": {"name": "candles"},
          "mark": {"type": "bar", "width": 3.6, "stroke": "#111111", "strokeWidth": 1},
          "encoding": {
            "x": {"field": "t", "type": "temporal", "title": null, "scale": {"domain": [{"year":2026,"month":"jun","date":16,"hours":10,"minutes":59},{"year":2026,"month":"aug","date":10,"hours":8,"minutes":34}], "range": [0, 1815]}},
            "y": {"field": "o", "type": "quantitative", "title": null, "scale": {"type": "log", "domain": [0.06407, 0.12736], "range": [530, 34], "clamp": true}},
            "y2": {"field": "c"},
            "fill": {"condition": {"test": "datum.c >= datum.o", "value": "#c8c8c8"}, "value": "#404040"}
          }
        },
        {
          "data": {"name": "priceLegend"},
          "mark": {"type": "text", "align": "left", "baseline": "middle", "fontSize": 15},
          "encoding": {
            "x": {"field": "t", "type": "temporal", "title": null, "scale": {"domain": [{"year":2026,"month":"jun","date":16,"hours":10,"minutes":59},{"year":2026,"month":"aug","date":10,"hours":8,"minutes":34}], "range": [0, 1815]}},
            "y": {"datum": 0.12385, "type": "quantitative", "scale": {"type": "log", "domain": [0.06407, 0.12736], "range": [530, 34], "clamp": true}},
            "text": {"field": "label"},
            "color": {"field": "kind", "type": "nominal", "legend": null, "scale": {"domain": ["muted", "value", "rsi", "ma"], "range": ["#9598a1", "#131722", "#7e57c2", "#f5c518"]}}
          }
        },
        {
          "mark": {"type": "point", "shape": "circle", "size": 645, "filled": false, "color": "#9c27b0", "strokeWidth": 2, "opacity": 1},
          "encoding": {
            "x": {"datum": {"year":2026,"month":"jul","date":29,"hours":5}, "type": "temporal", "scale": {"domain": [{"year":2026,"month":"jun","date":16,"hours":10,"minutes":59},{"year":2026,"month":"aug","date":10,"hours":8,"minutes":34}], "range": [0, 1815]}},
            "y": {"datum": 0.06557, "type": "quantitative", "scale": {"type": "log", "domain": [0.06407, 0.12736], "range": [530, 34], "clamp": true}}
          }
        },
        {
          "mark": {"type": "point", "shape": "M.5,-1 L-.7,.15 L-.05,.15 L-.5,1 L.7,-.2 L.05,-.2 Z", "size": 256, "filled": true, "color": "#9c27b0", "opacity": 1},
          "encoding": {
            "x": {"datum": {"year":2026,"month":"jul","date":29,"hours":5}, "type": "temporal", "scale": {"domain": [{"year":2026,"month":"jun","date":16,"hours":10,"minutes":59},{"year":2026,"month":"aug","date":10,"hours":8,"minutes":34}], "range": [0, 1815]}},
            "y": {"datum": 0.06557, "type": "quantitative", "scale": {"type": "log", "domain": [0.06407, 0.12736], "range": [530, 34], "clamp": true}}
          }
        },
        {
          "mark": {"type": "rect", "color": "#000000", "cornerRadius": 2},
          "encoding": {
            "x": {"datum": {"year":2026,"month":"aug","date":7,"hours":20,"minutes":45}, "type": "temporal", "scale": {"domain": [{"year":2026,"month":"jun","date":16,"hours":10,"minutes":59},{"year":2026,"month":"aug","date":10,"hours":8,"minutes":34}], "range": [0, 1815]}},
            "x2": {"datum": {"year":2026,"month":"aug","date":9,"hours":18,"minutes":43}},
            "y": {"datum": 0.0805, "type": "quantitative", "scale": {"type": "log", "domain": [0.06407, 0.12736], "range": [530, 34], "clamp": true}},
            "y2": {"datum": 0.07671}
          }
        },
        {
          "mark": {"type": "text", "align": "left", "baseline": "middle", "fontSize": 12.5, "fontWeight": "bold", "color": "#ffffff"},
          "encoding": {
            "x": {"datum": {"year":2026,"month":"aug","date":8,"hours":4,"minutes":5}, "type": "temporal", "scale": {"domain": [{"year":2026,"month":"jun","date":16,"hours":10,"minutes":59},{"year":2026,"month":"aug","date":10,"hours":8,"minutes":34}], "range": [0, 1815]}},
            "y": {"datum": 0.07933, "type": "quantitative", "scale": {"type": "log", "domain": [0.06407, 0.12736], "range": [530, 34], "clamp": true}},
            "text": {"value": "0.0794"}
          }
        },
        {
          "mark": {"type": "text", "align": "left", "baseline": "middle", "fontSize": 12, "color": "#d8d8d8"},
          "encoding": {
            "x": {"datum": {"year":2026,"month":"aug","date":8,"hours":4,"minutes":5}, "type": "temporal", "scale": {"domain": [{"year":2026,"month":"jun","date":16,"hours":10,"minutes":59},{"year":2026,"month":"aug","date":10,"hours":8,"minutes":34}], "range": [0, 1815]}},
            "y": {"datum": 0.07776, "type": "quantitative", "scale": {"type": "log", "domain": [0.06407, 0.12736], "range": [530, 34], "clamp": true}},
            "text": {"value": "01:22:27"}
          }
        }
      ]
    },
    {
      "layer": [
        {
          "mark": {"type": "rect", "color": "#7e57c2", "opacity": 0.1},
          "encoding": {
            "x": {"datum": {"year":2026,"month":"jun","date":16,"hours":20,"minutes":26}, "type": "temporal", "scale": {"domain": [{"year":2026,"month":"jun","date":16,"hours":10,"minutes":59},{"year":2026,"month":"aug","date":10,"hours":8,"minutes":34}], "range": [0, 1815]}},
            "x2": {"datum": {"year":2026,"month":"aug","date":7,"hours":20,"minutes":38}},
            "y": {
              "datum": 70, "type": "quantitative",
              "scale": {"domain": [2.1, 85.1], "range": [779, 530]},
              "axis": {
                "orient": "right", "offset": -82.5, "domain": true, "domainColor": "#808080", "labelPadding": 10, "labelAlign": "left", "labelOverlap": false, "labelFlush": false, "format": ".2f",
                "values": [20, 40, 60, 80]
              }
            },
            "y2": {"datum": 30}
          }
        },
        {
          "data": {"values": [{"t":"2026-06-24T11:15","v":30},{"t":"2026-06-24T13:00","v":25.9},{"t":"2026-06-24T17:00","v":23.3},{"t":"2026-06-24T19:15","v":30}]},
          "mark": {"type": "area", "color": {"gradient": "linear", "x1": 0, "y1": 0, "x2": 0, "y2": 1, "stops": [{"offset": 0, "color": "#ffffff"}, {"offset": 1, "color": "#fde0e2"}]}},
          "encoding": {"x": {"field": "t", "type": "temporal", "title": null, "scale": {"domain": [{"year":2026,"month":"jun","date":16,"hours":10,"minutes":59},{"year":2026,"month":"aug","date":10,"hours":8,"minutes":34}], "range": [0, 1815]}}, "y": {"field": "v", "type": "quantitative", "title": null, "scale": {"domain": [2.1, 85.1], "range": [779, 530]}}, "y2": {"datum": 30}}
        },
        {
          "data": {"values": [{"t":"2026-06-29T07:50","v":30},{"t":"2026-06-29T09:00","v":29},{"t":"2026-06-29T13:00","v":25.7},{"t":"2026-06-29T17:00","v":28.1},{"t":"2026-06-29T21:00","v":28.8},{"t":"2026-06-30T01:00","v":25.1},{"t":"2026-06-30T05:00","v":22.9},{"t":"2026-06-30T09:00","v":21.8},{"t":"2026-06-30T13:00","v":24.6},{"t":"2026-06-30T16:15","v":30}]},
          "mark": {"type": "area", "color": {"gradient": "linear", "x1": 0, "y1": 0, "x2": 0, "y2": 1, "stops": [{"offset": 0, "color": "#ffffff"}, {"offset": 1, "color": "#fcc8cb"}]}},
          "encoding": {"x": {"field": "t", "type": "temporal", "title": null, "scale": {"domain": [{"year":2026,"month":"jun","date":16,"hours":10,"minutes":59},{"year":2026,"month":"aug","date":10,"hours":8,"minutes":34}], "range": [0, 1815]}}, "y": {"field": "v", "type": "quantitative", "title": null, "scale": {"domain": [2.1, 85.1], "range": [779, 530]}}, "y2": {"datum": 30}}
        },
        {
          "data": {"values": [{"t":"2026-07-07T17:35","v":30},{"t":"2026-07-07T21:00","v":26},{"t":"2026-07-08T01:00","v":17.3},{"t":"2026-07-08T05:00","v":15.7},{"t":"2026-07-08T09:00","v":19.3},{"t":"2026-07-08T13:00","v":16.4},{"t":"2026-07-08T17:00","v":20.7},{"t":"2026-07-08T21:00","v":26.2},{"t":"2026-07-09T01:00","v":22.9},{"t":"2026-07-09T05:00","v":27},{"t":"2026-07-09T09:00","v":21.8},{"t":"2026-07-09T13:00","v":21.1},{"t":"2026-07-09T17:00","v":24},{"t":"2026-07-09T21:00","v":24.9},{"t":"2026-07-10T01:00","v":24.7},{"t":"2026-07-10T03:50","v":30}]},
          "mark": {"type": "area", "color": {"gradient": "linear", "x1": 0, "y1": 0, "x2": 0, "y2": 1, "stops": [{"offset": 0, "color": "#ffffff"}, {"offset": 1, "color": "#fba9b0"}]}},
          "encoding": {"x": {"field": "t", "type": "temporal", "title": null, "scale": {"domain": [{"year":2026,"month":"jun","date":16,"hours":10,"minutes":59},{"year":2026,"month":"aug","date":10,"hours":8,"minutes":34}], "range": [0, 1815]}}, "y": {"field": "v", "type": "quantitative", "title": null, "scale": {"domain": [2.1, 85.1], "range": [779, 530]}}, "y2": {"datum": 30}}
        },
        {
          "data": {"values": [{"t":"2026-07-12T18:30","v":30},{"t":"2026-07-12T21:00","v":21.8},{"t":"2026-07-13T01:00","v":17.9},{"t":"2026-07-13T05:00","v":16.2},{"t":"2026-07-13T09:00","v":12.9},{"t":"2026-07-13T13:00","v":13.2},{"t":"2026-07-13T17:00","v":12.3},{"t":"2026-07-13T21:00","v":11.2},{"t":"2026-07-14T01:00","v":9.1},{"t":"2026-07-14T05:00","v":13.2},{"t":"2026-07-14T09:00","v":12},{"t":"2026-07-14T12:15","v":30}]},
          "mark": {"type": "area", "color": {"gradient": "linear", "x1": 0, "y1": 0, "x2": 0, "y2": 1, "stops": [{"offset": 0, "color": "#ffffff"}, {"offset": 1, "color": "#f77c85"}]}},
          "encoding": {"x": {"field": "t", "type": "temporal", "title": null, "scale": {"domain": [{"year":2026,"month":"jun","date":16,"hours":10,"minutes":59},{"year":2026,"month":"aug","date":10,"hours":8,"minutes":34}], "range": [0, 1815]}}, "y": {"field": "v", "type": "quantitative", "title": null, "scale": {"domain": [2.1, 85.1], "range": [779, 530]}}, "y2": {"datum": 30}}
        },
        {
          "data": {"values": [{"t":"2026-07-19T22:30","v":70},{"t":"2026-07-20T01:00","v":74.4},{"t":"2026-07-20T05:00","v":74.6},{"t":"2026-07-20T09:00","v":75.7},{"t":"2026-07-20T13:00","v":76.6},{"t":"2026-07-20T17:00","v":72.3},{"t":"2026-07-20T17:50","v":70}]},
          "mark": {"type": "area", "color": {"gradient": "linear", "x1": 0, "y1": 0, "x2": 0, "y2": 1, "stops": [{"offset": 0, "color": "#ffffff"}, {"offset": 1, "color": "#e6f3ea"}]}},
          "encoding": {"x": {"field": "t", "type": "temporal", "title": null, "scale": {"domain": [{"year":2026,"month":"jun","date":16,"hours":10,"minutes":59},{"year":2026,"month":"aug","date":10,"hours":8,"minutes":34}], "range": [0, 1815]}}, "y": {"field": "v", "type": "quantitative", "title": null, "scale": {"domain": [2.1, 85.1], "range": [779, 530]}}, "y2": {"datum": 70}}
        },
        {
          "mark": {"type": "rule", "color": "#787b86", "strokeDash": [5, 5], "strokeWidth": 1},
          "encoding": {
            "x": {"datum": {"year":2026,"month":"jun","date":16,"hours":20,"minutes":26}, "type": "temporal", "scale": {"domain": [{"year":2026,"month":"jun","date":16,"hours":10,"minutes":59},{"year":2026,"month":"aug","date":10,"hours":8,"minutes":34}], "range": [0, 1815]}},
            "x2": {"datum": {"year":2026,"month":"aug","date":7,"hours":20,"minutes":38}},
            "y": {"datum": 70, "type": "quantitative", "scale": {"domain": [2.1, 85.1], "range": [779, 530]}}
          }
        },
        {
          "mark": {"type": "rule", "color": "#787b86", "strokeDash": [5, 5], "strokeWidth": 1, "opacity": 0.5},
          "encoding": {
            "x": {"datum": {"year":2026,"month":"jun","date":16,"hours":20,"minutes":26}, "type": "temporal", "scale": {"domain": [{"year":2026,"month":"jun","date":16,"hours":10,"minutes":59},{"year":2026,"month":"aug","date":10,"hours":8,"minutes":34}], "range": [0, 1815]}},
            "x2": {"datum": {"year":2026,"month":"aug","date":7,"hours":20,"minutes":38}},
            "y": {"datum": 50, "type": "quantitative", "scale": {"domain": [2.1, 85.1], "range": [779, 530]}}
          }
        },
        {
          "mark": {"type": "rule", "color": "#787b86", "strokeDash": [5, 5], "strokeWidth": 1},
          "encoding": {
            "x": {"datum": {"year":2026,"month":"jun","date":16,"hours":20,"minutes":26}, "type": "temporal", "scale": {"domain": [{"year":2026,"month":"jun","date":16,"hours":10,"minutes":59},{"year":2026,"month":"aug","date":10,"hours":8,"minutes":34}], "range": [0, 1815]}},
            "x2": {"datum": {"year":2026,"month":"aug","date":7,"hours":20,"minutes":38}},
            "y": {"datum": 30, "type": "quantitative", "scale": {"domain": [2.1, 85.1], "range": [779, 530]}}
          }
        },
        {
          "data": {"name": "rsi"},
          "mark": {"type": "line", "color": "#7e57c2", "strokeWidth": 1.2},
          "encoding": {"x": {"field": "t", "type": "temporal", "title": null, "scale": {"domain": [{"year":2026,"month":"jun","date":16,"hours":10,"minutes":59},{"year":2026,"month":"aug","date":10,"hours":8,"minutes":34}], "range": [0, 1815]}}, "y": {"field": "v", "type": "quantitative", "title": null, "scale": {"domain": [2.1, 85.1], "range": [779, 530]}}}
        },
        {
          "data": {"name": "ma"},
          "mark": {"type": "line", "color": "#f8d668", "strokeWidth": 1.2},
          "encoding": {"x": {"field": "t", "type": "temporal", "title": null, "scale": {"domain": [{"year":2026,"month":"jun","date":16,"hours":10,"minutes":59},{"year":2026,"month":"aug","date":10,"hours":8,"minutes":34}], "range": [0, 1815]}}, "y": {"field": "v", "type": "quantitative", "title": null, "scale": {"domain": [2.1, 85.1], "range": [779, 530]}}}
        },
        {
          "mark": {"type": "rect", "color": "#7e57c2", "cornerRadius": 2},
          "encoding": {
            "x": {"datum": {"year":2026,"month":"aug","date":7,"hours":20,"minutes":45}, "type": "temporal", "scale": {"domain": [{"year":2026,"month":"jun","date":16,"hours":10,"minutes":59},{"year":2026,"month":"aug","date":10,"hours":8,"minutes":34}], "range": [0, 1815]}},
            "x2": {"datum": {"year":2026,"month":"aug","date":9,"hours":6,"minutes":29}},
            "y": {"datum": 50.1, "type": "quantitative", "scale": {"domain": [2.1, 85.1], "range": [779, 530]}},
            "y2": {"datum": 43.9}
          }
        },
        {
          "mark": {"type": "text", "align": "left", "baseline": "middle", "fontSize": 12.5, "color": "#ffffff"},
          "encoding": {
            "x": {"datum": {"year":2026,"month":"aug","date":8,"hours":4,"minutes":5}, "type": "temporal", "scale": {"domain": [{"year":2026,"month":"jun","date":16,"hours":10,"minutes":59},{"year":2026,"month":"aug","date":10,"hours":8,"minutes":34}], "range": [0, 1815]}},
            "y": {"datum": 47, "type": "quantitative", "scale": {"domain": [2.1, 85.1], "range": [779, 530]}},
            "text": {"value": "46.93"}
          }
        },
        {
          "mark": {"type": "rect", "color": "#fdd835", "cornerRadius": 2},
          "encoding": {
            "x": {"datum": {"year":2026,"month":"aug","date":7,"hours":20,"minutes":45}, "type": "temporal", "scale": {"domain": [{"year":2026,"month":"jun","date":16,"hours":10,"minutes":59},{"year":2026,"month":"aug","date":10,"hours":8,"minutes":34}], "range": [0, 1815]}},
            "x2": {"datum": {"year":2026,"month":"aug","date":9,"hours":6,"minutes":29}},
            "y": {"datum": 39.2, "type": "quantitative", "scale": {"domain": [2.1, 85.1], "range": [779, 530]}},
            "y2": {"datum": 32.9}
          }
        },
        {
          "mark": {"type": "text", "align": "left", "baseline": "middle", "fontSize": 12.5, "color": "#000000"},
          "encoding": {
            "x": {"datum": {"year":2026,"month":"aug","date":8,"hours":4,"minutes":5}, "type": "temporal", "scale": {"domain": [{"year":2026,"month":"jun","date":16,"hours":10,"minutes":59},{"year":2026,"month":"aug","date":10,"hours":8,"minutes":34}], "range": [0, 1815]}},
            "y": {"datum": 36.1, "type": "quantitative", "scale": {"domain": [2.1, 85.1], "range": [779, 530]}},
            "text": {"value": "35.84"}
          }
        },
        {
          "data": {"name": "rsiLegend"},
          "mark": {"type": "text", "align": "left", "baseline": "middle", "fontSize": 15},
          "encoding": {
            "x": {"field": "t", "type": "temporal", "title": null, "scale": {"domain": [{"year":2026,"month":"jun","date":16,"hours":10,"minutes":59},{"year":2026,"month":"aug","date":10,"hours":8,"minutes":34}], "range": [0, 1815]}},
            "y": {"datum": 78.2, "type": "quantitative", "scale": {"domain": [2.1, 85.1], "range": [779, 530]}},
            "text": {"field": "label"},
            "color": {"field": "kind", "type": "nominal", "legend": null, "scale": {"domain": ["muted", "value", "rsi", "ma"], "range": ["#9598a1", "#131722", "#7e57c2", "#f5c518"]}}
          }
        },
        {
          "mark": {"type": "rule", "color": "#222222", "strokeWidth": 1.5},
          "encoding": {
            "x": {"datum": {"year":2026,"month":"jun","date":16,"hours":20,"minutes":26}, "type": "temporal", "scale": {"domain": [{"year":2026,"month":"jun","date":16,"hours":10,"minutes":59},{"year":2026,"month":"aug","date":10,"hours":8,"minutes":34}], "range": [0, 1815]}},
            "x2": {"datum": {"year":2026,"month":"aug","date":9,"hours":23,"minutes":2}},
            "y": {"datum": 85.1, "type": "quantitative", "scale": {"domain": [2.1, 85.1], "range": [779, 530]}}
          }
        },
        {
          "mark": {"type": "rule", "color": "#808080", "strokeWidth": 1},
          "encoding": {
            "x": {"datum": {"year":2026,"month":"jun","date":16,"hours":20,"minutes":26}, "type": "temporal", "scale": {"domain": [{"year":2026,"month":"jun","date":16,"hours":10,"minutes":59},{"year":2026,"month":"aug","date":10,"hours":8,"minutes":34}], "range": [0, 1815]}},
            "x2": {"datum": {"year":2026,"month":"aug","date":9,"hours":23,"minutes":2}},
            "y": {"datum": 2.1, "type": "quantitative", "scale": {"domain": [2.1, 85.1], "range": [779, 530]}}
          }
        },
        {
          "mark": {"type": "rule", "color": "#808080", "strokeWidth": 1},
          "encoding": {
            "x": {"datum": {"year":2026,"month":"aug","date":7,"hours":20,"minutes":38}, "type": "temporal", "scale": {"domain": [{"year":2026,"month":"jun","date":16,"hours":10,"minutes":59},{"year":2026,"month":"aug","date":10,"hours":8,"minutes":34}], "range": [0, 1815]}},
            "y": {"datum": 2.1, "type": "quantitative", "scale": {"domain": [2.1, 85.1], "range": [779, 530]}},
            "y2": {"datum": -8.6}
          }
        },
        {
          "mark": {"type": "rect", "color": "#1e1e1e"},
          "encoding": {
            "x": {"datum": {"year":2026,"month":"jun","date":16,"hours":10,"minutes":59}, "type": "temporal", "scale": {"domain": [{"year":2026,"month":"jun","date":16,"hours":10,"minutes":59},{"year":2026,"month":"aug","date":10,"hours":8,"minutes":34}], "range": [0, 1815]}},
            "x2": {"datum": {"year":2026,"month":"aug","date":10,"hours":8,"minutes":34}},
            "y": {"datum": 261.8, "type": "quantitative", "scale": {"domain": [2.1, 85.1], "range": [779, 530]}},
            "y2": {"datum": 250.4}
          }
        },
        {
          "mark": {"type": "rect", "color": "#1e1e1e"},
          "encoding": {
            "x": {"datum": {"year":2026,"month":"jun","date":16,"hours":10,"minutes":59}, "type": "temporal", "scale": {"domain": [{"year":2026,"month":"jun","date":16,"hours":10,"minutes":59},{"year":2026,"month":"aug","date":10,"hours":8,"minutes":34}], "range": [0, 1815]}},
            "x2": {"datum": {"year":2026,"month":"aug","date":10,"hours":8,"minutes":34}},
            "y": {"datum": -8.6, "type": "quantitative", "scale": {"domain": [2.1, 85.1], "range": [779, 530]}},
            "y2": {"datum": -33.9}
          }
        },
        {
          "mark": {"type": "rect", "color": "#1e1e1e"},
          "encoding": {
            "x": {"datum": {"year":2026,"month":"jun","date":16,"hours":10,"minutes":59}, "type": "temporal", "scale": {"domain": [{"year":2026,"month":"jun","date":16,"hours":10,"minutes":59},{"year":2026,"month":"aug","date":10,"hours":8,"minutes":34}], "range": [0, 1815]}},
            "x2": {"datum": {"year":2026,"month":"jun","date":16,"hours":20,"minutes":26}},
            "y": {"datum": 261.8, "type": "quantitative", "scale": {"domain": [2.1, 85.1], "range": [779, 530]}},
            "y2": {"datum": -33.9}
          }
        },
        {
          "mark": {"type": "rect", "color": "#1e1e1e"},
          "encoding": {
            "x": {"datum": {"year":2026,"month":"aug","date":9,"hours":23,"minutes":2}, "type": "temporal", "scale": {"domain": [{"year":2026,"month":"jun","date":16,"hours":10,"minutes":59},{"year":2026,"month":"aug","date":10,"hours":8,"minutes":34}], "range": [0, 1815]}},
            "x2": {"datum": {"year":2026,"month":"aug","date":10,"hours":8,"minutes":34}},
            "y": {"datum": 261.8, "type": "quantitative", "scale": {"domain": [2.1, 85.1], "range": [779, 530]}},
            "y2": {"datum": -33.9}
          }
        },
        {
          "mark": {"type": "rect", "fill": null, "stroke": "#a6a6a6", "strokeWidth": 1},
          "encoding": {
            "x": {"datum": {"year":2026,"month":"jun","date":16,"hours":20,"minutes":26}, "type": "temporal", "scale": {"domain": [{"year":2026,"month":"jun","date":16,"hours":10,"minutes":59},{"year":2026,"month":"aug","date":10,"hours":8,"minutes":34}], "range": [0, 1815]}},
            "x2": {"datum": {"year":2026,"month":"aug","date":9,"hours":23,"minutes":2}},
            "y": {"datum": 250.4, "type": "quantitative", "scale": {"domain": [2.1, 85.1], "range": [779, 530]}},
            "y2": {"datum": -8.6}
          }
        },
        {
          "mark": {"type": "text", "align": "left", "baseline": "middle", "fontSize": 15, "color": "#d9d9d9"},
          "encoding": {
            "x": {"datum": {"year":2026,"month":"jun","date":16,"hours":20,"minutes":26}, "type": "temporal", "scale": {"domain": [{"year":2026,"month":"jun","date":16,"hours":10,"minutes":59},{"year":2026,"month":"aug","date":10,"hours":8,"minutes":34}], "range": [0, 1815]}},
            "y": {"datum": 255.1, "type": "quantitative", "scale": {"domain": [2.1, 85.1], "range": [779, 530]}},
            "text": {"value": "sasmaishera created with TradingView.com, Jul 29, 2026 07:37 UTC+1"}
          }
        },
        {
          "mark": {"type": "point", "shape": "M-.99,-.49 L-.216,-.49 L-.216,.49 L-.61,.49 L-.61,-.09 L-.99,-.09 Z M0,-.31 A.18,.18 0 1 0 .36,-.31 A.18,.18 0 1 0 0,-.31 Z M.505,-.49 L1.01,-.49 L.595,.49 L.108,.49 Z", "size": 1369, "filled": true, "color": "#e5e5e5", "opacity": 1},
          "encoding": {
            "x": {"datum": {"year":2026,"month":"jun","date":17,"hours":11,"minutes":35}, "type": "temporal", "scale": {"domain": [{"year":2026,"month":"jun","date":16,"hours":10,"minutes":59},{"year":2026,"month":"aug","date":10,"hours":8,"minutes":34}], "range": [0, 1815]}},
            "y": {"datum": -20.9, "type": "quantitative", "scale": {"domain": [2.1, 85.1], "range": [779, 530]}}
          }
        },
        {
          "mark": {"type": "text", "align": "left", "baseline": "middle", "font": "Inter", "fontSize": 25.5, "fontWeight": 600, "color": "#e5e5e5"},
          "encoding": {
            "x": {"datum": {"year":2026,"month":"jun","date":18,"hours":8}, "type": "temporal", "scale": {"domain": [{"year":2026,"month":"jun","date":16,"hours":10,"minutes":59},{"year":2026,"month":"aug","date":10,"hours":8,"minutes":34}], "range": [0, 1815]}},
            "y": {"datum": -21.6, "type": "quantitative", "scale": {"domain": [2.1, 85.1], "range": [779, 530]}},
            "text": {"value": "TradingView"}
          }
        }
      ]
    }
  ],
  "resolve": {"scale": {"y": "independent"}, "axis": {"y": "independent"}}
}
